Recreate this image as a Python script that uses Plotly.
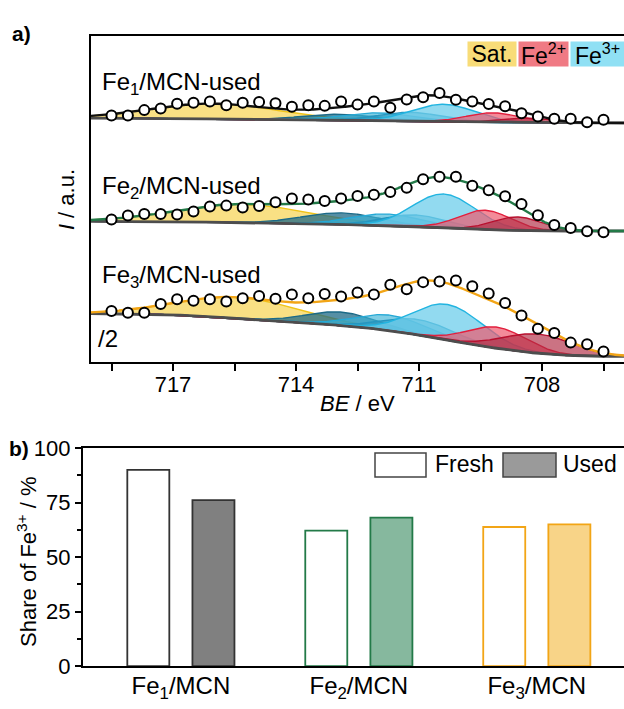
import numpy as np
import plotly.graph_objects as go

W, H = 624, 709
FONT = "Liberation Sans, Arial, sans-serif"

# ---------------- data: panel a (Fe 2p3/2 XPS, used catalysts) ----------------
binding_energy = [718.5, 718.1, 717.7, 717.3, 716.9, 716.5, 716.1, 715.7, 715.3, 714.9,
                  714.5, 714.1, 713.7, 713.3, 712.9, 712.5, 712.1, 711.7, 711.3, 710.9,
                  710.5, 710.1, 709.7, 709.3, 708.9, 708.5, 708.1, 707.7, 707.3, 706.9, 706.5]
fe1_used = [255.7, 255.7, 261.3, 263.0, 268.0, 269.0, 270.3, 266.3, 269.0, 269.7,
            268.3, 264.7, 266.3, 265.7, 270.3, 267.0, 270.3, 263.7, 272.3, 274.7,
            279.0, 272.0, 270.3, 267.7, 265.3, 258.0, 254.7, 252.3, 252.3, 248.7, 251.3]
fe2_used = [148.0, 152.0, 153.7, 153.7, 153.0, 156.3, 161.3, 162.3, 160.3, 162.0,
            165.7, 169.7, 168.7, 167.0, 169.7, 172.3, 173.7, 176.3, 180.7, 189.7,
            192.3, 192.3, 183.0, 178.3, 172.0, 164.0, 152.3, 142.3, 139.0, 135.7, 134.7]
fe3_used = [53.0, 51.3, 51.3, 60.3, 65.3, 63.7, 65.3, 63.0, 66.3, 68.7,
            65.7, 70.3, 66.3, 70.7, 68.0, 72.3, 70.3, 80.3, 75.7, 83.0,
            83.7, 84.7, 78.7, 71.3, 61.3, 48.3, 34.7, 30.3, 20.3, 18.7, 11.0]

# fitted components: Sat., four Fe3+ multiplet peaks, two Fe2+ peaks
component_kind = ["sat", "fe3a", "fe3b", "fe3c", "fe3d", "fe2a", "fe2b"]
fe1_centers = [716.0, 713.0, 712.0, 711.2, 710.4, 709.2, 708.4]
fe1_heights = [16, 6, 8, 9, 18, 10, 5]
fe1_fwhm = [3.6, 2.0, 2.0, 1.8, 1.8, 1.5, 1.4]
fe2_centers = [715.3, 712.9, 711.8, 711.1, 710.4, 709.4, 708.6]
fe2_heights = [19, 12, 12, 12, 35, 20, 14]
fe2_fwhm = [3.8, 2.2, 2.0, 1.8, 1.8, 1.5, 1.4]
fe3_centers = [715.4, 712.9, 711.7, 711.0, 710.3, 709.1, 708.1]
fe3_heights = [22, 14, 16, 16, 37, 22, 20]
fe3_fwhm = [3.5, 2.0, 2.0, 2.0, 2.0, 1.7, 2.0]
# Shirley background end levels (high-BE side, low-BE side)
fe1_background = [253.0, 248.0]
fe2_background = [146.0, 136.0]
fe3_background = [50.5, 6.0]

spectrum_labels = ["Fe<sub>1</sub>/MCN-used", "Fe<sub>2</sub>/MCN-used", "Fe<sub>3</sub>/MCN-used"]
x_tick_values = [718.5, 717, 715.5, 714, 712.5, 711, 709.5, 708, 706.5]
x_tick_text = ["", "717", "", "714", "", "711", "", "708", ""]

# ---------------- data: panel b ----------------
samples = ["Fe<sub>1</sub>/MCN", "Fe<sub>2</sub>/MCN", "Fe<sub>3</sub>/MCN"]
share_fresh = [90.0, 62.1, 63.8]
share_used = [76.1, 68.1, 65.0]
share_ticks = [0, 25, 50, 75, 100]

# ---------------- styles ----------------
fit_colors = ["#111111", "#237a48", "#f2a516"]
used_fill = ["#808080", "#86b89e", "#f8d488"]
bar_edges = ["#333333", "#237a48", "#f2a516"]
comp_style = {
    "sat": ("rgba(248,218,110,0.85)", "#f0c419"),
    "fe3a": ("rgba(30,105,135,0.75)", "#1b6a88"),
    "fe3b": ("rgba(60,180,215,0.65)", "#26a9d6"),
    "fe3c": ("rgba(45,150,190,0.6)", "#2596c0"),
    "fe3d": ("rgba(110,205,235,0.75)", "#22b4e0"),
    "fe2a": ("rgba(238,90,110,0.7)", "#e2203e"),
    "fe2b": ("rgba(175,40,65,0.65)", "#b8102e"),
}

grid = np.linspace(719.0, 706.0, 651)


def gauss(x, c, h, w):
    return h * np.exp(-4 * np.log(2) * (x - c) ** 2 / w ** 2)


def shirley(total, b_left, b_right):
    g = grid[::-1]
    p = total[::-1]
    cum = np.concatenate([[0.0], np.cumsum(0.5 * (p[1:] + p[:-1]) * np.diff(g))])
    frac = cum / cum[-1]
    return (b_right + (b_left - b_right) * frac)[::-1]


fig = go.Figure()

spectra = [
    (fe1_used, fe1_centers, fe1_heights, fe1_fwhm, fe1_background),
    (fe2_used, fe2_centers, fe2_heights, fe2_fwhm, fe2_background),
    (fe3_used, fe3_centers, fe3_heights, fe3_fwhm, fe3_background),
]

for i, (meas, cen, hgt, fw, bgl) in enumerate(spectra):
    peaks = [gauss(grid, c, h, w) for c, h, w in zip(cen, hgt, fw)]
    total = np.sum(peaks, axis=0)
    bg = shirley(total, bgl[0], bgl[1])
    for kind, pk in zip(component_kind, peaks):
        fc, lc = comp_style[kind]
        fig.add_trace(go.Scatter(
            x=np.concatenate([grid, grid[::-1]]),
            y=np.concatenate([bg + pk, bg[::-1]]),
            mode="lines", fill="toself", fillcolor=fc,
            line=dict(color=lc, width=1.4), hoverinfo="skip",
            xaxis="x", yaxis="y"))
    fig.add_trace(go.Scatter(x=grid, y=bg, mode="lines",
                             line=dict(color="#4d4d4d", width=2.8),
                             xaxis="x", yaxis="y"))
    fig.add_trace(go.Scatter(x=grid, y=bg + total, mode="lines",
                             line=dict(color=fit_colors[i], width=2.4),
                             xaxis="x", yaxis="y"))
    fig.add_trace(go.Scatter(x=binding_energy, y=meas, mode="markers",
                             marker=dict(symbol="circle", size=10, color="white",
                                         line=dict(color="black", width=2)),
                             xaxis="x", yaxis="y"))

# panel b bars
fig.add_trace(go.Bar(x=samples, y=share_fresh, name="Fresh",
                     marker=dict(color="white", line=dict(color=bar_edges, width=1.8)),
                     xaxis="x2", yaxis="y2"))
fig.add_trace(go.Bar(x=samples, y=share_used, name="Used",
                     marker=dict(color=used_fill, line=dict(color=bar_edges, width=1.8)),
                     xaxis="x2", yaxis="y2"))


def px(x):
    return x / W


def py(y):
    return 1 - y / H


def note(text, x, y, xanchor="left", size=23, **kw):
    d = dict(text=text, x=px(x), y=py(y), xref="paper", yref="paper",
             xanchor=xanchor, yanchor="middle", showarrow=False, font=dict(size=size))
    d.update(kw)
    return d


annotations = [
    note("<b>a)</b>", 10, 22, size=21),
    note("<b>b)</b>", 7, 452, size=21),
]
for lab, yy in zip(spectrum_labels, [74, 182, 274]):
    annotations.append(note(lab, 100, yy, size=24))
annotations.append(note("/2", 96, 338, size=24))
for txt, cx, col, wd in [("Sat.", 492, "#f8dc78", 48), ("Fe<sup>2+</sup>", 543, "#f07a84", 49),
                         ("Fe<sup>3+</sup>", 597, "#90e0f4", 53)]:
    annotations.append(note(txt, cx, 44, xanchor="center", bgcolor=col, width=wd, height=24,
                            borderpad=0, size=23))
annotations.append(note("<i>BE</i> / eV", 357, 406, xanchor="center", size=22))
annotations.append(note("<i>I</i> / a.u.", 66, 195, xanchor="center", textangle=-90, size=22))
annotations.append(note("Share of Fe<sup>3+</sup> / %", 27, 570, xanchor="center", textangle=-90, size=22))
annotations.append(note("Fresh", 433, 469, size=23))
annotations.append(note("Used", 561, 469, size=23))

shapes = [
    dict(type="rect", xref="paper", yref="paper", x0=px(375), x1=px(426), y0=py(482), y1=py(457),
         fillcolor="white", line=dict(color="#444444", width=1.5)),
    dict(type="rect", xref="paper", yref="paper", x0=px(503), x1=px(556), y0=py(482), y1=py(457),
         fillcolor="#9a9a9a", line=dict(color="#444444", width=1.5)),
]

fig.update_layout(
    width=W, height=H,
    margin=dict(l=0, r=0, t=0, b=0),
    paper_bgcolor="white", plot_bgcolor="white",
    showlegend=False,
    font=dict(family=FONT, size=22, color="black"),
    barmode="group", bargap=0.268, bargroupgap=0.355,
    annotations=annotations, shapes=shapes,
    xaxis=dict(domain=[px(91), 1], anchor="y", range=[719.0, 706.0],
               tickmode="array", tickvals=x_tick_values, ticktext=x_tick_text,
               ticks="outside", ticklen=7, tickwidth=1.8, tickcolor="black",
               ticklabelstandoff=-6,
               showline=True, linewidth=2, linecolor="black", mirror=True,
               showgrid=False, zeroline=False, tickfont=dict(size=22)),
    yaxis=dict(domain=[py(363), py(25)], anchor="x", range=[0, 338],
               showticklabels=False, ticks="", showline=True, linewidth=2,
               linecolor="black", mirror=False, showgrid=False, zeroline=False),
    xaxis2=dict(domain=[px(83), 1], anchor="y2", type="category", range=[-0.55, 2.49],
                showline=True, linewidth=2.2, linecolor="black", mirror=True,
                ticks="", ticklabelstandoff=-3, showgrid=False, zeroline=False,
                tickfont=dict(size=24)),
    yaxis2=dict(domain=[py(678), py(452)], anchor="x2", range=[0, 100],
                tickmode="array", tickvals=share_ticks,
                ticks="outside", ticklen=6, tickwidth=1.8, tickcolor="black",
                minor=dict(tickvals=[12.5, 37.5, 62.5, 87.5], ticks="outside", ticklen=4,
                           tickwidth=1.5, tickcolor="black"),
                showline=True, linewidth=2.2, linecolor="black", mirror=False,
                showgrid=False, zeroline=False, tickfont=dict(size=22)),
)

fig.write_html("out.html", config={"displayModeBar": False},
               post_script="document.body.style.margin='0px';document.body.style.overflow='hidden';")
